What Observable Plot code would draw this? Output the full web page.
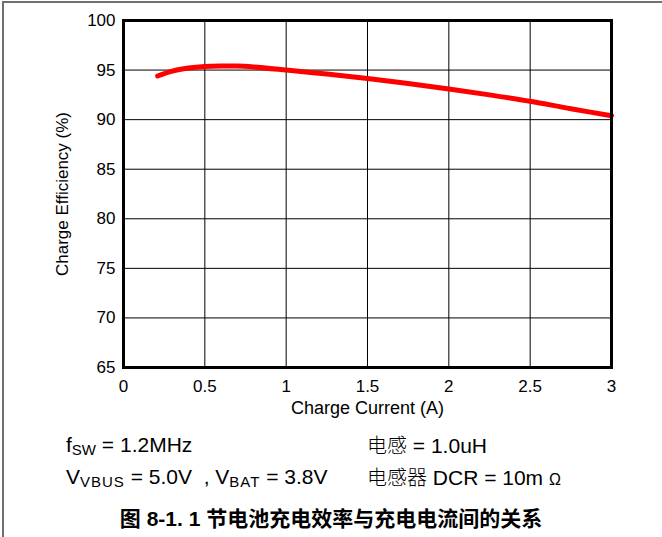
<!DOCTYPE html>
<html>
<head>
<meta charset="utf-8">
<script src="https://cdn.jsdelivr.net/npm/d3@7"></script>
<script src="https://cdn.jsdelivr.net/npm/@observablehq/plot@0.6"></script>
<style>
  html, body { margin: 0; padding: 0; background: #fff; }
  #wrap {
    position: relative; width: 662px; height: 537px; box-sizing: border-box;
    font-family: "Liberation Sans", Arial, sans-serif; color: #000;
  }
  #border { position: absolute; left: 2px; top: 1px; right: 0; bottom: 0;
    border-left: 2px solid #707070; border-top: 2px solid #707070; }
  #chart { position: absolute; left: 0; top: 0; }
  .note { position: absolute; font-size: 21px; line-height: 24px; white-space: nowrap; }
  .note sub { font-size: 15px; vertical-align: -3px; line-height: 0; }
  .wide sub { letter-spacing: 1px; }
  .cjk { font-family: "Noto Sans CJK SC", sans-serif; font-weight: 300; font-size: 20px; }
  #title { position: absolute; left: 0; width: 662px; top: 507px; line-height: 24px; text-align: center;
    font-size: 21px; font-weight: bold; font-family: "Liberation Sans", "Noto Sans CJK SC", sans-serif; }
</style>
</head>
<body>
<div id="wrap">
  <div id="border"></div>
  <div id="chart"></div>
  <div class="note" style="left:66px; top:433px;">f<sub>SW</sub> = 1.2MHz</div>
  <div class="note wide" style="left:66px; top:465px;">V<sub>VBUS</sub> = 5.0V &nbsp;, V<sub>BAT</sub> = 3.8V</div>
  <div class="note" style="left:367px; top:433px;"><span class="cjk">电感</span> = 1.0uH</div>
  <div class="note" style="left:367px; top:465px;"><span class="cjk">电感器</span> DCR = 10m <span style="font-size:16px">Ω</span></div>
  <div id="title">图 8-1. 1 节电池充电效率与充电电流间的关系</div>
</div>
<script>
const current = [0.21, 0.3, 0.4, 0.5, 0.6, 0.7, 0.8, 1.0, 1.25, 1.5, 1.75, 2.0, 2.25, 2.5, 2.75, 3.0];
const efficiency = [94.4, 94.9, 95.2, 95.35, 95.4, 95.4, 95.3, 95.0, 94.6, 94.15, 93.65, 93.1, 92.5, 91.85, 91.1, 90.4];
const xTicks = [0, 0.5, 1, 1.5, 2, 2.5, 3];
const yTicks = [65, 70, 75, 80, 85, 90, 95, 100];

const data = current.map((c, i) => ({x: c, y: efficiency[i]}));

const chart = Plot.plot({
  width: 662,
  height: 420,
  marginLeft: 123,
  marginRight: 51,
  marginTop: 20,
  marginBottom: 53,
  style: {fontFamily: "'Liberation Sans', Arial, sans-serif", fontSize: "17px", background: "transparent", color: "#000"},
  x: {domain: [0, 3], ticks: xTicks, tickFormat: d => String(d), label: null},
  y: {domain: [65, 100], ticks: yTicks, label: null},
  marks: [
    Plot.gridX(xTicks, {stroke: "#000", strokeOpacity: 1, strokeWidth: 1}),
    Plot.gridY(yTicks, {stroke: "#000", strokeOpacity: 1, strokeWidth: 1}),
    Plot.axisX(xTicks, {tickSize: 0, tickPadding: 12, fontSize: 17, tickFormat: d => String(d)}),
    Plot.axisY(yTicks, {tickSize: 0, tickPadding: 8, fontSize: 17}),
    Plot.text(["Charge Current (A)"], {frameAnchor: "bottom", lineAnchor: "middle", dy: 41, fontSize: 18}),
    Plot.text(["Charge Efficiency (%)"], {frameAnchor: "left", textAnchor: "middle", lineAnchor: "middle", dx: -61, rotate: -90, fontSize: 17}),
    Plot.line(data, {x: "x", y: "y", stroke: "#ff0000", strokeWidth: 5, curve: "catmull-rom"}),
    Plot.frame({stroke: "#000", strokeWidth: 3})
  ]
});
document.getElementById("chart").appendChild(chart);
</script>
</body>
</html>
